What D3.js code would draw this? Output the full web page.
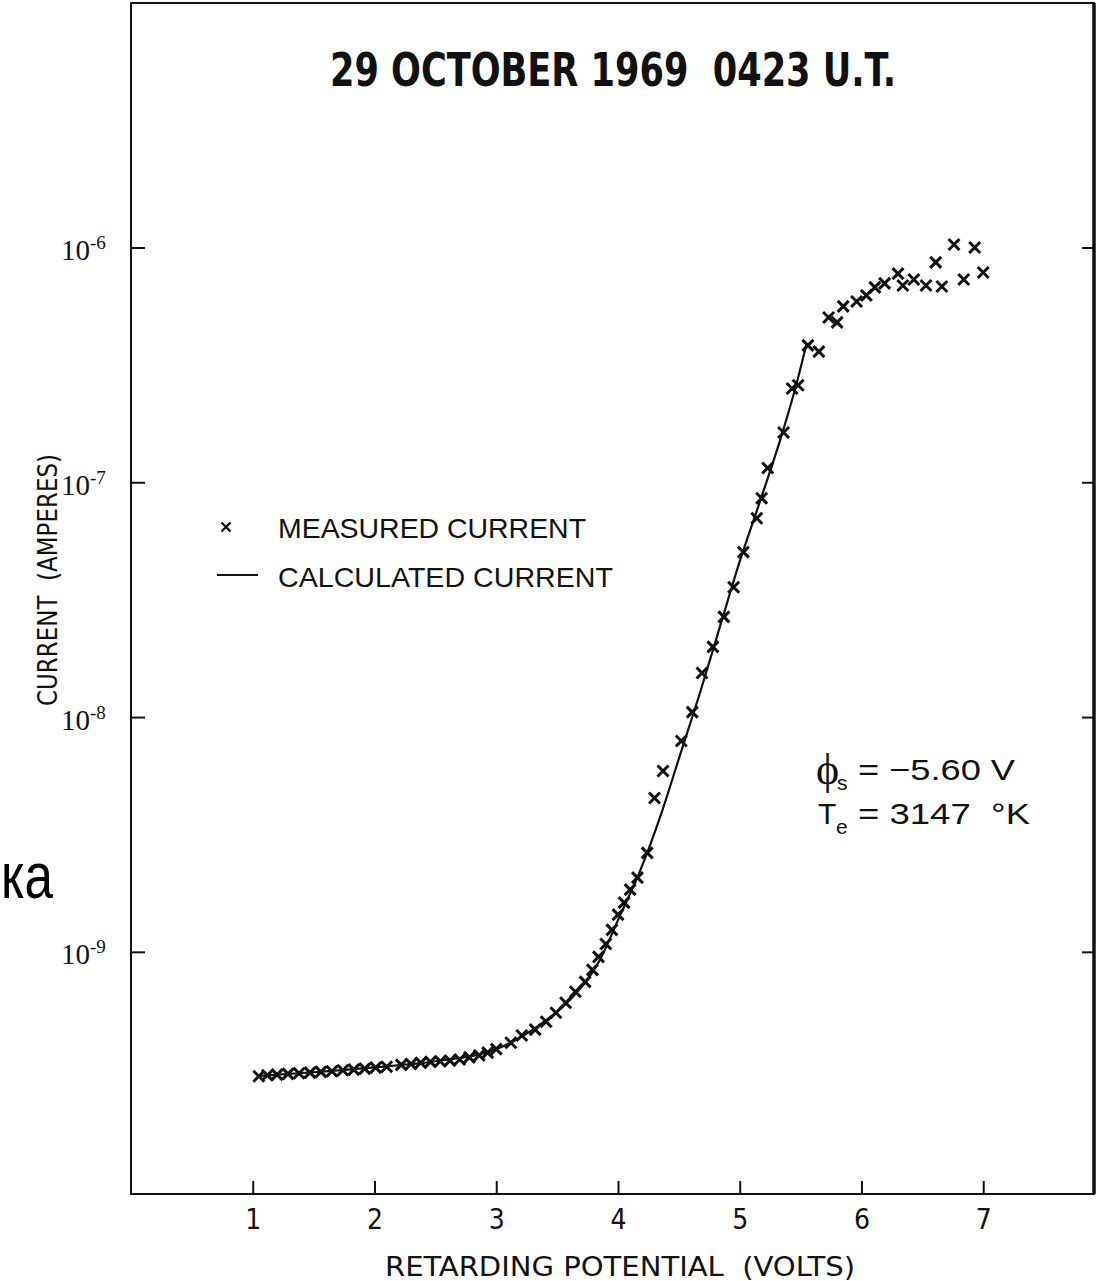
<!DOCTYPE html>
<html>
<head>
<meta charset="utf-8">
<script src="https://cdn.jsdelivr.net/npm/d3@7"></script>
<style>
	body { margin: 0; background: #fff; }
	svg { display: block; }
	text { white-space: pre; }
	.tick line { stroke: #111; stroke-width: 2; }
	.xlab { font-family: "DejaVu Sans Condensed", "Liberation Sans Narrow", sans-serif; fill: #111; }
	.serif { font-family: "Liberation Serif", "DejaVu Serif", serif; fill: #111; }
	.sans { font-family: "Liberation Sans", Arial, sans-serif; fill: #111; }
</style>
</head>
<body>
<div id="container"></div>
<script>
// measured current (x marks)
const measuredV = [1.05, 1.12, 1.20, 1.29, 1.38, 1.47, 1.56, 1.65, 1.74, 1.83, 1.92, 2.01, 2.10, 2.22, 2.30, 2.38, 2.46, 2.54, 2.62, 2.70, 2.78, 2.86, 2.93, 3.00,
	3.12, 3.21, 3.32, 3.41, 3.49, 3.57, 3.65, 3.73, 3.79, 3.84, 3.90, 3.95, 4.00, 4.05, 4.10, 4.16, 4.24, 4.30, 4.37,
	4.52, 4.61, 4.69, 4.78, 4.87, 4.95, 5.03, 5.14, 5.18, 5.23, 5.36, 5.43, 5.48, 5.56, 5.65,
	5.73, 5.80, 5.85, 5.96, 6.04, 6.11, 6.19, 6.30, 6.34, 6.43, 6.53, 6.61, 6.66, 6.76, 6.84, 6.93, 7.00];
const measuredI = [2.95e-10, 2.98e-10, 3.0e-10, 3.02e-10, 3.04e-10, 3.06e-10, 3.08e-10, 3.1e-10, 3.13e-10, 3.15e-10, 3.18e-10, 3.21e-10, 3.24e-10, 3.3e-10, 3.33e-10, 3.37e-10, 3.4e-10, 3.42e-10, 3.44e-10, 3.48e-10, 3.55e-10, 3.62e-10, 3.72e-10, 3.85e-10,
	4.10e-10, 4.40e-10, 4.66e-10, 5.04e-10, 5.50e-10, 6.07e-10, 6.76e-10, 7.45e-10, 8.38e-10, 9.52e-10, 1.08e-9, 1.24e-9, 1.44e-9, 1.62e-9, 1.84e-9, 2.07e-9, 2.64e-9, 4.52e-9, 5.89e-9,
	7.91e-9, 1.05e-8, 1.54e-8, 1.99e-8, 2.67e-8, 3.57e-8, 5.04e-8, 7.03e-8, 8.55e-8, 1.15e-7, 1.63e-7, 2.51e-7, 2.59e-7, 3.83e-7, 3.60e-7,
	5.03e-7, 4.80e-7, 5.61e-7, 5.89e-7, 6.25e-7, 6.76e-7, 7.03e-7, 7.74e-7, 6.89e-7, 7.31e-7, 6.89e-7, 8.64e-7, 6.82e-7, 1.03e-6, 7.31e-7, 1.0e-6, 7.83e-7];

// calculated current (solid line)
const calcV = [1.05, 1.5, 2.0, 2.5, 3.0, 3.36, 3.6, 3.85, 4.02, 4.18, 4.35, 4.51, 4.68, 4.84, 5.0, 5.17, 5.33, 5.46, 5.55];
const calcI = [2.96e-10, 3.07e-10, 3.22e-10, 3.42e-10, 3.85e-10, 4.9e-10, 6.2e-10, 9.2e-10, 1.44e-9, 2.2e-9, 3.8e-9, 6.9e-9, 1.3e-8, 2.45e-8, 4.6e-8, 8.4e-8, 1.5e-7, 2.55e-7, 3.9e-7];

const xTicks = [1, 2, 3, 4, 5, 6, 7];
const yTicks = [1e-9, 1e-8, 1e-7, 1e-6];
const yTickExp = ['-9', '-8', '-7', '-6'];

const titleText = '29 OCTOBER 1969  0423 U.T.';
const xTitle = 'RETARDING POTENTIAL  (VOLTS)';
const yTitle = 'CURRENT  (AMPERES)';
const legendLabels = ['MEASURED CURRENT', 'CALCULATED CURRENT'];

function draw(){
	var width = 1099, height = 1281;
	var left = 131, right = 1094, top = 3, bottom = 1194;

	var svg = d3.select('#container').append('svg')
		.attr('width', width)
		.attr('height', height);

	var x = d3.scaleLinear().domain([0, 7.91]).range([left, right]);
	var y = d3.scaleLog().domain([9.3e-11, 1.1e-5]).range([bottom, top]);

	//frame
	svg.append('rect')
		.attr('x', left).attr('y', top)
		.attr('width', right - left).attr('height', bottom - top)
		.attr('fill', 'none').attr('stroke', '#111').attr('stroke-width', 2);
	svg.append('line')
		.attr('x1', right).attr('x2', right).attr('y1', top).attr('y2', bottom)
		.attr('stroke', '#111').attr('stroke-width', 3.5);

	//axes
	var xAxis = svg.append('g')
		.attr('transform', 'translate(0,' + bottom + ')')
		.call(d3.axisBottom(x).tickValues(xTicks).tickSizeInner(-13).tickSizeOuter(0).tickPadding(15));
	xAxis.select('.domain').remove();
	xAxis.selectAll('.tick text')
		.attr('class', 'xlab')
		.style('font-size', '28px')
		.style('font-weight', 300);

	var yAxis = svg.append('g')
		.attr('transform', 'translate(' + left + ',0)')
		.call(d3.axisLeft(y).tickValues(yTicks).tickSizeInner(-14).tickSizeOuter(0).tickFormat(() => ''));
	yAxis.select('.domain').remove();
	yAxis.selectAll('.tick text').remove();
	yAxis.selectAll('.tick').each(function(d, i){
		var t = d3.select(this).append('text')
			.attr('class', 'serif')
			.attr('text-anchor', 'start')
			.attr('x', -70)
			.attr('y', 12)
			.style('font-size', '29px');
		t.append('tspan').text('10');
		t.append('tspan')
			.attr('dy', -11)
			.style('font-size', '19px')
			.text(yTickExp[i]);
	});

	var yRight = svg.append('g')
		.attr('transform', 'translate(' + right + ',0)')
		.call(d3.axisRight(y).tickValues(yTicks).tickSizeInner(-12).tickSizeOuter(0).tickFormat(() => ''));
	yRight.select('.domain').remove();

	//calculated curve
	var pts = calcV.map((v, i) => [v, calcI[i]]);
	var line = d3.line()
		.x(d => x(d[0]))
		.y(d => y(d[1]))
		.curve(d3.curveMonotoneX);
	svg.append('path')
		.attr('d', line(pts))
		.attr('fill', 'none')
		.attr('stroke', '#111')
		.attr('stroke-width', 2.2);

	//measured crosses
	var m = measuredV.map((v, i) => [v, measuredI[i]]);
	svg.append('g').selectAll('path')
		.data(m)
		.enter()
		.append('path')
		.attr('transform', d => 'translate(' + x(d[0]) + ',' + y(d[1]) + ')')
		.attr('d', 'M-5.5,-5.5L5.5,5.5M-5.5,5.5L5.5,-5.5')
		.attr('stroke', '#111')
		.attr('stroke-width', 3)
		.attr('fill', 'none');

	//title
	svg.append('text')
		.attr('x', 613)
		.attr('y', 86)
		.attr('text-anchor', 'middle')
		.attr('textLength', 566)
		.attr('lengthAdjust', 'spacingAndGlyphs')
		.style('font-family', '"DejaVu Sans Condensed", "Liberation Sans Narrow", sans-serif')
		.style('font-weight', 'bold')
		.style('font-size', '47px')
		.style('fill', '#111')
		.text(titleText);

	//axis titles
	svg.append('text')
		.attr('class', 'xlab')
		.attr('x', 620)
		.attr('y', 1276)
		.attr('text-anchor', 'middle')
		.attr('textLength', 470)
		.attr('lengthAdjust', 'spacingAndGlyphs')
		.style('font-size', '27px')
		.text(xTitle);

	svg.append('text')
		.attr('class', 'xlab')
		.attr('transform', 'translate(57,580) rotate(-90)')
		.attr('text-anchor', 'middle')
		.attr('textLength', 252)
		.attr('lengthAdjust', 'spacingAndGlyphs')
		.style('font-size', '27px')
		.text(yTitle);

	//legend
	svg.append('path')
		.attr('transform', 'translate(226,527)')
		.attr('d', 'M-4.5,-4.5L4.5,4.5M-4.5,4.5L4.5,-4.5')
		.attr('stroke', '#111')
		.attr('stroke-width', 2.4);
	svg.append('line')
		.attr('x1', 217).attr('x2', 258).attr('y1', 575).attr('y2', 575)
		.attr('stroke', '#111').attr('stroke-width', 2.2);
	svg.append('text')
		.attr('class', 'sans')
		.attr('x', 278).attr('y', 538)
		.attr('textLength', 308)
		.attr('lengthAdjust', 'spacingAndGlyphs')
		.style('font-size', '28px')
		.text(legendLabels[0]);
	svg.append('text')
		.attr('class', 'sans')
		.attr('x', 278).attr('y', 587)
		.attr('textLength', 335)
		.attr('lengthAdjust', 'spacingAndGlyphs')
		.style('font-size', '28px')
		.text(legendLabels[1]);

	//parameters
	svg.append('text').attr('class', 'serif')
		.attr('x', 816).attr('y', 784)
		.style('font-size', '44px')
		.text('\u03D5');
	svg.append('text').attr('class', 'sans')
		.attr('x', 837).attr('y', 790)
		.style('font-size', '21px')
		.text('s');
	svg.append('text').attr('class', 'sans')
		.attr('x', 858).attr('y', 780)
		.attr('textLength', 157)
		.attr('lengthAdjust', 'spacingAndGlyphs')
		.style('font-size', '30px')
		.text('= \u22125.60 V');

	svg.append('text').attr('class', 'sans')
		.attr('x', 818).attr('y', 824)
		.style('font-size', '30px')
		.text('T');
	svg.append('text').attr('class', 'sans')
		.attr('x', 836).attr('y', 834)
		.style('font-size', '21px')
		.text('e');
	svg.append('text').attr('class', 'sans')
		.attr('x', 858).attr('y', 824)
		.attr('textLength', 172)
		.attr('lengthAdjust', 'spacingAndGlyphs')
		.style('font-size', '30px')
		.text('= 3147  \u00B0K');

	//stray text at the left edge
	svg.append('text')
		.attr('class', 'sans')
		.attr('x', 1)
		.attr('y', 898)
		.attr('textLength', 52)
		.attr('lengthAdjust', 'spacingAndGlyphs')
		.style('font-size', '64px')
		.style('fill', '#000')
		.text('ка');
}

draw();
</script>
</body>
</html>
